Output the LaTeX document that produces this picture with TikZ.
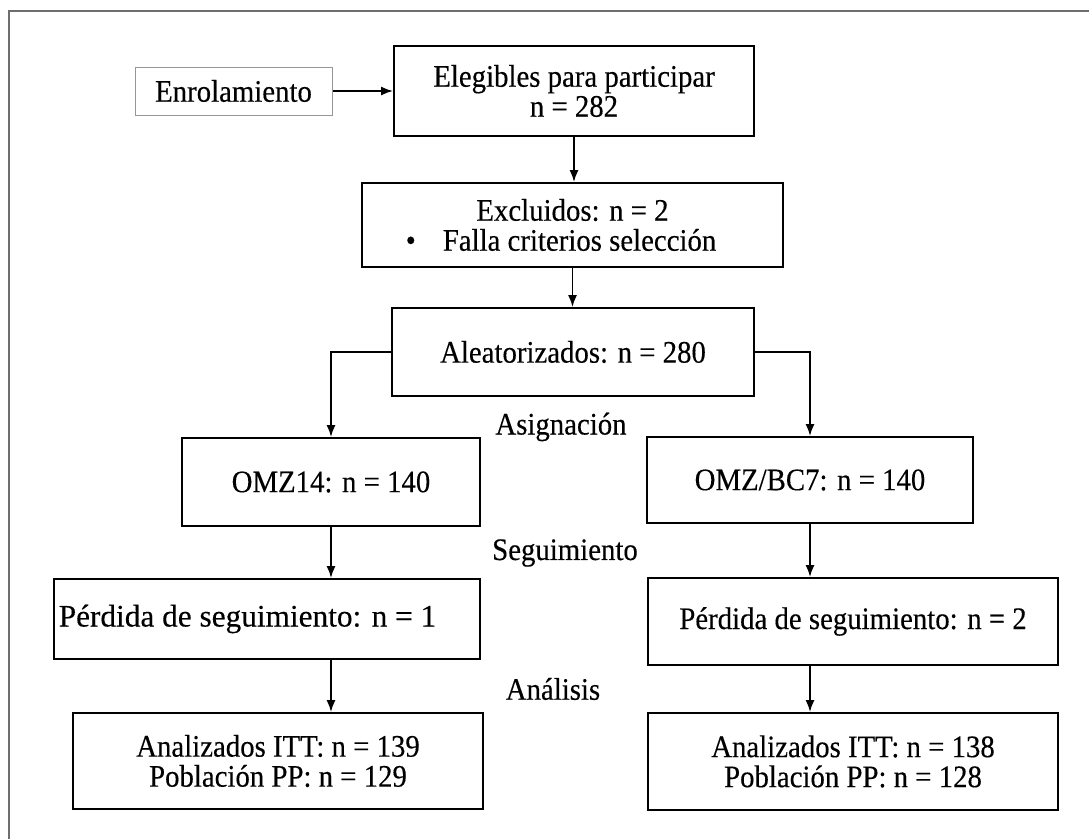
\documentclass[tikz,border=0pt]{standalone}
\usepackage{fontspec}
\setmainfont{Liberation Serif}[FakeStretch=0.92,FakeBold=0.3]
\newfontfamily\widefont{Liberation Serif}[FakeBold=0.3]
\usetikzlibrary{arrows.meta}
\tikzset{>={Latex[length=12pt,width=9pt]}}
\definecolor{framegray}{RGB}{110,110,110}
\definecolor{enrolgray}{RGB}{150,150,150}
\tikzset{
  box/.style={draw,line width=1.8pt,align=center,inner sep=0pt,
    font=\fontsize{31.3}{30}\selectfont},
  tag/.style={inner sep=0pt,font=\fontsize{31.3}{30}\selectfont},
  link/.style={->,line width=1.8pt},
}

\begin{document}
\begin{tikzpicture}[x=1pt,y=-1pt]

  % define to change easily
  \def\colL{331} % left arm
  \def\colR{810} % right arm
  \def\boxH{88}

  \useasboundingbox (0,0) rectangle (1089,839);

  % frame
  \draw[framegray,line width=2pt] (9,839) -- (9,11) -- (1089,11);

  % boxes
  \node[box,draw=enrolgray,line width=1pt,minimum width=197,minimum height=48]
    (enrol) at (233.5,91) {Enrolamiento};
  \node[box,minimum width=360,minimum height=90]
    (eleg) at (574,91) {Elegibles para participar\\n = 282};
  \node[box,minimum width=421,minimum height=84]
    (excl) at (572.5,225)
    {Excluidos: n = 2\\\textbullet\hspace{27pt}Falla criterios selección\hspace*{23pt}};
  \node[box,minimum width=362,minimum height=\boxH]
    (aleat) at (573,352) {Aleatorizados: n = 280};
  \node[box,minimum width=298,minimum height=\boxH]
    (omz14) at (\colL,482) {OMZ14: n = 140};
  \node[box,minimum width=326,minimum height=86]
    (omzbc) at (\colR,480) {OMZ/BC7: n = 140};
  \node[box,minimum width=426,minimum height=80]
    (perd1) at (267,619) {\widefont Pérdida de seguimiento: n = 1\hspace*{39pt}};
  \node[box,minimum width=410,minimum height=87]
    (perd2) at (853,621.5) {Pérdida de seguimiento: n = 2};
  \node[box,minimum width=410,minimum height=96]
    (anal1) at (278,761) {Analizados ITT: n = 139\\Población PP: n = 129};
  \node[box,minimum width=410,minimum height=97]
    (anal2) at (853,761.5) {Analizados ITT: n = 138\\Población PP: n = 128};

  % labels
  \node[tag] (asig) at (561,427) {Asignación};
  \node[tag] (segu) at (565,553) {Seguimiento};
  \node[tag] (anls) at (553,689) {Análisis};

  % arrows
  \draw[link] (enrol) -- (eleg);
  \draw[link] (eleg.south) -- (eleg.south |- excl.north);
  \draw[link] (excl.south) -- (excl.south |- aleat.north);
  \draw[link] (aleat.west) -| (omz14.north);
  \draw[link] (aleat.east) -| (omzbc.north);
  \draw[link] (omz14.south) -- (omz14.south |- perd1.north);
  \draw[link] (omzbc.south) -- (omzbc.south |- perd2.north);
  \draw[link] (omz14.south |- perd1.south) -- (omz14.south |- anal1.north);
  \draw[link] (omzbc.south |- perd2.south) -- (omzbc.south |- anal2.north);

\end{tikzpicture}
\end{document}
